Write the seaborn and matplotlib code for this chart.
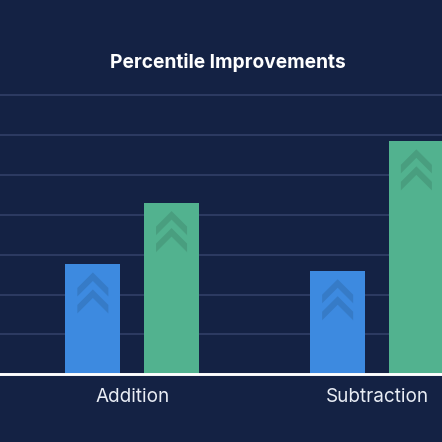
import numpy as np
import pandas as pd
import matplotlib
matplotlib.use("Agg")
import matplotlib.pyplot as plt
import seaborn as sns
from matplotlib.patches import Polygon
from matplotlib.transforms import ScaledTranslation
from matplotlib.colors import to_rgb

# ---- data ----
categories = ["Addition", "Subtraction"]
series = ["Before", "After"]
before_values = [27.7, 26.0]
after_values = [43.1, 58.6]
grid_ticks = [0, 10, 20, 30, 40, 50, 60, 70]
title_text = "Percentile Improvements"

BG = "#142244"
GRID = "#34426a"
palette = {"Before": "#3d8ae0", "After": "#52b28f"}

df = pd.DataFrame({
    "category": categories * 2,
    "series": [series[0]] * len(categories) + [series[1]] * len(categories),
    "value": before_values + after_values,
})

sns.set_theme(style="dark")
plt.rcParams["font.family"] = ["Inter", "DejaVu Sans"]

fig = plt.figure(figsize=(4.42, 4.42), dpi=100, facecolor=BG)
ax = fig.add_axes([0, 0.1532, 1, 0.6489])
ax.set_facecolor(BG)

sns.barplot(data=df, x="category", y="value", hue="series", hue_order=series,
            palette=palette, width=0.643, gap=0.30, saturation=1,
            legend=False, ax=ax, zorder=3, linewidth=0)

ax.set_xlim(-0.540, 1.2655)
ax.set_ylim(0, 72)
ax.set_yticks(grid_ticks)
ax.yaxis.grid(True, color=GRID, linewidth=1.1, zorder=0)
ax.xaxis.grid(False)
ax.tick_params(axis="y", left=False, labelleft=False)
ax.tick_params(axis="x", bottom=False, labelsize=13.6, colors="#e9edf5", pad=4)
ax.set_xlabel("")
ax.set_ylabel("")
for s in ["left", "right", "top"]:
    ax.spines[s].set_visible(False)
ax.spines["bottom"].set_color("white")
ax.spines["bottom"].set_linewidth(2.1)
ax.spines["bottom"].set_zorder(5)

# chevrons inside bars (pixel-sized shapes anchored at each bar's top)
def chevron(dy):
    pts = [(0, 0), (15.5, -15.5), (15.5, -24), (0, -8.5), (-15.5, -24), (-15.5, -15.5)]
    return [(x / 100.0, (y + dy) / 100.0) for x, y in pts]

for p in list(ax.patches):
    cx = p.get_x() + p.get_width() / 2
    top = p.get_y() + p.get_height()
    fc = np.array(to_rgb(p.get_facecolor())) * 0.89
    tr = fig.dpi_scale_trans + ScaledTranslation(cx, top, ax.transData)
    for dy in (-8.5, -25.5):
        ax.add_patch(Polygon(chevron(dy), closed=True, transform=tr,
                             facecolor=fc, edgecolor="none", zorder=4))

fig.text(227.5 / 442, 1 - 62 / 442, title_text, ha="center", va="center",
         color="white", fontsize=13.8, fontweight="bold")

fig.savefig("out.png", dpi=100, facecolor=BG)
